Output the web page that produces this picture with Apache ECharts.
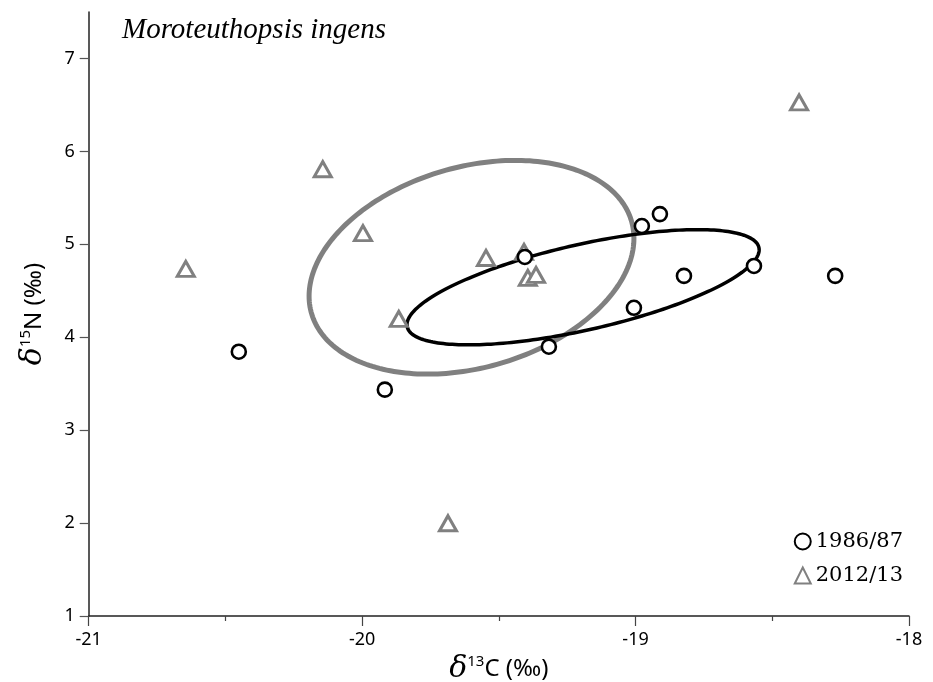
<!DOCTYPE html>
<html>
<head>
<meta charset="utf-8">
<script src="https://cdn.jsdelivr.net/npm/echarts@6/dist/echarts.min.js"></script>
<style>html,body{margin:0;padding:0;background:#fff;}#c{width:933px;height:682px;}</style>
</head>
<body>
<div id="c"></div>
<script>
// ---- data ----
const xTicks = [-21, -20, -19, -18];
const yTicks = [1, 2, 3, 4, 5, 6, 7];
const seriesNames = ['1986/87', '2012/13'];
const c1986X = [-20.451, -19.917, -19.405, -19.317, -19.006, -18.977, -18.911, -18.823, -18.567, -18.270];
const c1986Y = [3.844, 3.436, 4.864, 3.898, 4.317, 5.197, 5.325, 4.660, 4.767, 4.660];
const c2012X = [-20.645, -20.144, -19.997, -19.866, -19.686, -19.547, -19.408, -19.394, -19.364, -18.402];
const c2012Y = [4.735, 5.808, 5.121, 4.198, 1.998, 4.853, 4.918, 4.638, 4.671, 6.527];
// standard ellipses: [centre x, centre y, sd x, sd y, correlation]
const ellipse1986 = [-19.192, 4.538, 0.644, 0.620, 0.65];
const ellipse2012 = [-19.600, 4.753, 0.594, 1.150, 0.27];
const titleText = 'Moroteuthopsis ingens';

function ellipsePoints(p) {
  const [cx, cy, sx, sy, r] = p;
  const q = Math.sqrt(1 - r * r);
  const pts = [];
  for (let k = 0; k <= 240; k++) {
    const t = k / 240 * 2 * Math.PI;
    pts.push([cx + sx * Math.cos(t), cy + sy * (r * Math.cos(t) + q * Math.sin(t))]);
  }
  return pts;
}

function ellipseSeries(p, color, width, z) {
  const pts = ellipsePoints(p);
  return {
    type: 'custom', silent: true, z: z, clip: false,
    data: [[p[0], p[1]]],
    renderItem: function (params, api) {
      return {
        type: 'polygon',
        shape: { points: pts.map(q => api.coord(q)) },
        style: { fill: 'none', stroke: color, lineWidth: width }
      };
    }
  };
}

const zip = (xs, ys) => xs.map((x, i) => [x, ys[i]]);

const chart = echarts.init(document.getElementById('c'), null, { renderer: 'canvas' });
const sansFont = 'Noto Sans';
const nameRich = {
  d: { fontFamily: 'DejaVu Serif', fontStyle: 'italic', fontSize: 30, color: '#000' },
  s: { fontFamily: sansFont, fontSize: 15, color: '#000', verticalAlign: 'top', padding: [0, 0, 12, 0] },
  t: { fontFamily: sansFont, fontSize: 24, color: '#000' }
};
chart.setOption({
  animation: false,
  backgroundColor: '#fff',
  title: {
    text: titleText, left: 117, top: 11,
    textStyle: { fontFamily: 'Liberation Serif', fontStyle: 'italic', fontWeight: 'normal', fontSize: 29, color: '#000' }
  },
  legend: {
    orient: 'vertical', right: 25, top: 526, itemGap: 13,
    itemWidth: 16, itemHeight: 16,
    data: seriesNames,
    textStyle: { fontFamily: 'DejaVu Serif', fontSize: 21, color: '#000' }
  },
  grid: { left: 88.7, right: 24, top: 12, bottom: 66, containLabel: false, outerBoundsMode: 'none' },
  xAxis: {
    type: 'value', min: -21, max: -18, interval: 1,
    name: '{d|δ}{s|13}{t|C (‰)}', nameLocation: 'middle', nameGap: 31,
    nameTextStyle: { rich: nameRich },
    axisLine: { lineStyle: { color: '#222', width: 1.5 } },
    axisTick: { length: 10, lineStyle: { color: '#444', width: 1.2 }, customValues: xTicks },
    minorTick: { show: true, splitNumber: 2, length: 5, lineStyle: { color: '#444', width: 1.2 } },
    axisLabel: { fontFamily: sansFont, fontSize: 18, color: '#000', margin: 15, customValues: xTicks },
    splitLine: { show: false }
  },
  yAxis: {
    type: 'value', min: 1, max: 7.5, interval: 1,
    name: '{d|δ}{s|15}{t|N (‰)}', nameLocation: 'middle', nameGap: 40, nameRotate: 90,
    nameTextStyle: { rich: nameRich },
    axisLine: { show: true, lineStyle: { color: '#222', width: 1.5 } },
    axisTick: { show: true, length: 9, lineStyle: { color: '#555', width: 1.2 }, customValues: yTicks },
    axisLabel: { fontFamily: sansFont, fontSize: 18, color: '#000', margin: 14, customValues: yTicks },
    splitLine: { show: false }
  },
  series: [
    ellipseSeries(ellipse2012, '#808080', 5, 1),
    ellipseSeries(ellipse1986, '#000000', 3.5, 2),
    {
      name: seriesNames[1], type: 'scatter', z: 3,
      symbol: 'triangle', symbolSize: [17, 15],
      itemStyle: { color: '#fff', borderColor: '#808080', borderWidth: 3, opacity: 1 },
      data: zip(c2012X, c2012Y)
    },
    {
      name: seriesNames[0], type: 'scatter', z: 4,
      symbol: 'circle', symbolSize: 14,
      itemStyle: { color: '#fff', borderColor: '#000', borderWidth: 2.6, opacity: 1 },
      data: zip(c1986X, c1986Y)
    }
  ]
});
</script>
</body>
</html>
